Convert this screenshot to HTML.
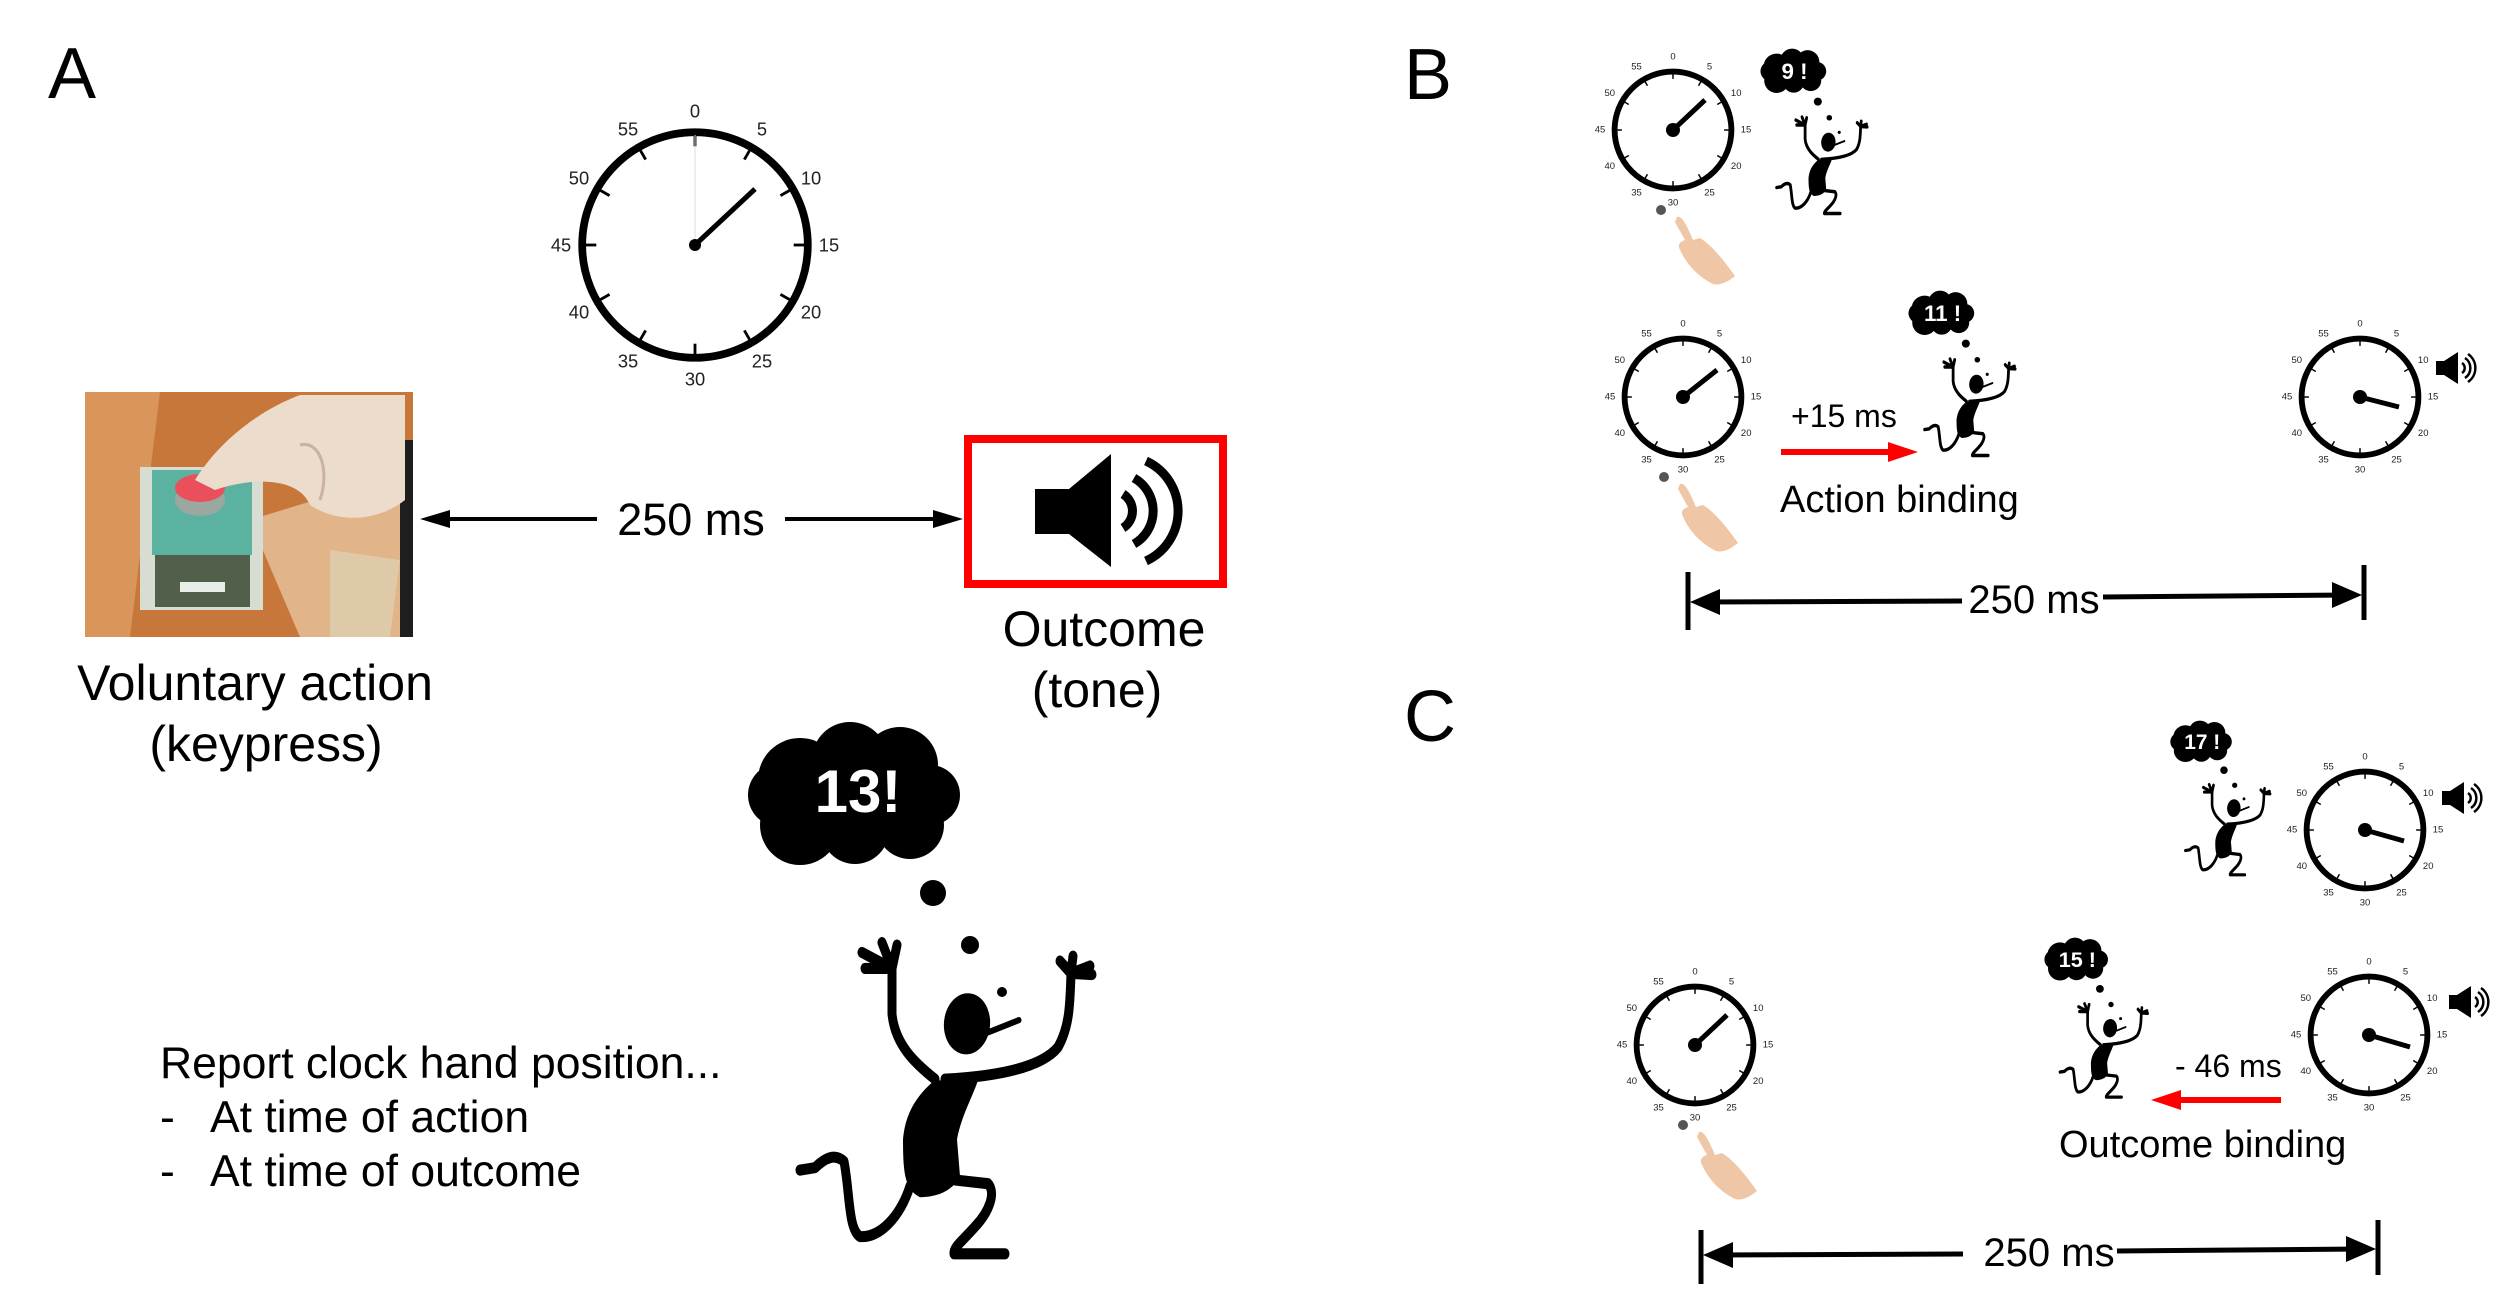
<!DOCTYPE html>
<html><head><meta charset="utf-8">
<style>
html,body{margin:0;padding:0;background:#fff;}
svg{display:block;font-family:"Liberation Sans",sans-serif;}
</style></head>
<body>
<svg width="2500" height="1302" viewBox="0 0 2500 1302" xmlns="http://www.w3.org/2000/svg">
<defs>
  <g id="dial">
    <g stroke="#000" stroke-width="2">
      <line x1="0" y1="-80" x2="0" y2="-70"/><line x1="40" y1="-69.3" x2="35" y2="-60.6"/>
      <line x1="69.3" y1="-40" x2="60.6" y2="-35"/><line x1="80" y1="0" x2="70" y2="0"/>
      <line x1="69.3" y1="40" x2="60.6" y2="35"/><line x1="40" y1="69.3" x2="35" y2="60.6"/>
      <line x1="0" y1="80" x2="0" y2="70"/><line x1="-40" y1="69.3" x2="-35" y2="60.6"/>
      <line x1="-69.3" y1="40" x2="-60.6" y2="35"/><line x1="-80" y1="0" x2="-70" y2="0"/>
      <line x1="-69.3" y1="-40" x2="-60.6" y2="-35"/><line x1="-40" y1="-69.3" x2="-35" y2="-60.6"/>
    </g>
  </g>
  <g id="lbl" font-size="13" text-anchor="middle" dominant-baseline="central" fill="#222">
    <text x="0" y="-100">0</text><text x="50" y="-86.6">5</text><text x="86.6" y="-50">10</text>
    <text x="100" y="0">15</text><text x="86.6" y="50">20</text><text x="50" y="86.6">25</text>
    <text x="0" y="100">30</text><text x="-50" y="86.6">35</text><text x="-86.6" y="50">40</text>
    <text x="-100" y="0">45</text><text x="-86.6" y="-50">50</text><text x="-50" y="-86.6">55</text>
  </g>
  <g id="lblA" font-size="13" text-anchor="middle" dominant-baseline="central" fill="#222">
    <text x="0" y="-95">0</text><text x="47.5" y="-82.3">5</text><text x="82.3" y="-47.5">10</text>
    <text x="95" y="0">15</text><text x="82.3" y="47.5">20</text><text x="47.5" y="82.3">25</text>
    <text x="0" y="95">30</text><text x="-47.5" y="82.3">35</text><text x="-82.3" y="47.5">40</text>
    <text x="-95" y="0">45</text><text x="-82.3" y="-47.5">50</text><text x="-47.5" y="-82.3">55</text>
  </g>
  <g id="cloud" fill="#000">
    <circle cx="60" cy="60" r="42"/><circle cx="110" cy="40" r="38"/><circle cx="160" cy="45" r="38"/>
    <circle cx="190" cy="75" r="30"/><circle cx="170" cy="105" r="34"/><circle cx="115" cy="110" r="34"/>
    <circle cx="60" cy="105" r="40"/><circle cx="40" cy="75" r="32"/><circle cx="118" cy="75" r="55"/>
  </g>
  <g id="man0">
    <ellipse cx="227" cy="273" rx="23" ry="25" transform="rotate(15 227 273)"/>
    <line x1="248" y1="280" x2="279" y2="270" stroke="#000" stroke-width="5" stroke-linecap="round"/>
    <g fill="none" stroke="#000" stroke-width="9" stroke-linecap="round" stroke-linejoin="round">
      <path d="M195,318 C175,305 155,290 152,265 L152,228"/>
      <path d="M152,228 L122,215 M152,228 L142,207 M152,228 L157,209 M152,228 L125,228"/>
      <path d="M205,318 C250,316 300,310 318,292 C330,275 330,255 331,232"/>
      <path d="M331,232 L320,222 M331,232 L333,218 M331,232 L350,226 M331,232 L352,233"/>
      <path d="M170,405 C160,430 140,447 120,446 C108,440 110,410 104,385 C95,378 85,382 75,390 L60,392"/>
      <path d="M215,400 L248,403 C256,410 250,425 235,438 C222,450 213,455 214,460 L265,460"/>
    </g>
    <path d="M193,320 L240,313 C236,328 222,345 217,367 L220,397 C212,410 195,414 180,414 C165,408 163,395 163,367 C165,350 172,335 193,320 Z"/>
  </g>
  <g id="man">
    <circle cx="193" cy="173" r="13"/><circle cx="230" cy="225" r="9"/><circle cx="262" cy="272" r="5"/>
    <use href="#man0" transform="translate(0,-32) scale(1,1.23)"/>
  </g>
  <g id="hand">
    <circle cx="-12" cy="80" r="5" fill="#555"/>
    <path d="M4,87 C9,85 14,96 20,110 L27,108 C40,116 52,132 62,146 C55,152 46,156 40,154 C28,148 16,138 8,122 C4,115 6,112 12,110 L2,92 Z" fill="#efc7a6"/>
  </g>
  <g id="spk">
    <rect x="0" y="-7" width="10" height="14" fill="#000"/>
    <polygon points="8,-7 22,-16 22,16 8,7" fill="#000"/>
    <path d="M26,-5 A6,6 0 0 1 26,5 M29,-10 A12,12 0 0 1 29,10 M32,-14 A17,17 0 0 1 32,14" fill="none" stroke="#000" stroke-width="2.5"/>
  </g>
</defs>

<text x="48" y="98" font-size="72">A</text>
<text x="1404" y="99" font-size="72">B</text>
<text x="1404" y="741" font-size="72">C</text>

<!-- Clock A -->
<g transform="translate(695,245) scale(1.41)">
  <circle r="80" fill="none" stroke="#000" stroke-width="5.5"/>
  <use href="#dial"/><use href="#lblA"/>
  <line x1="0" y1="0" x2="0" y2="-78" stroke="#ddd" stroke-width="0.7"/>
</g>
<line x1="695" y1="245" x2="755" y2="189" stroke="#000" stroke-width="5"/>
<circle cx="695" cy="245" r="6"/>

<!-- Button photo -->
<g>
  <rect x="85" y="392" width="328" height="245" fill="#c8773a"/>
  <path d="M85,392 L160,392 L130,637 L85,637 Z" fill="#d9955a"/>
  <path d="M250,520 L413,470 L413,637 L300,637 Z" fill="#e2b48a"/>
  <path d="M330,550 L400,560 L390,637 L330,637 Z" fill="#dec9a8"/>
  <rect x="400" y="440" width="13" height="197" fill="#1e1e1e"/>
  <rect x="140" y="467" width="123" height="143" fill="#d8ddd2"/>
  <rect x="152" y="470" width="100" height="85" fill="#5cb2a0"/>
  <rect x="155" y="555" width="95" height="52" fill="#50604a"/>
  <rect x="180" y="582" width="45" height="10" fill="#e8eee8"/>
  <ellipse cx="200" cy="500" rx="25" ry="16" fill="#9aa8a0"/>
  <ellipse cx="200" cy="488" rx="25" ry="14" fill="#e9505c"/>
  <path d="M195,480 C220,440 260,410 300,395 L405,395 L405,500 C380,520 340,525 310,505 C300,480 260,475 215,490 Z" fill="#ecdccc"/>
  <path d="M300,445 C320,440 330,470 320,500" fill="none" stroke="#c9b39f" stroke-width="3"/>
</g>

<!-- 250 ms arrow A -->
<line x1="440" y1="519" x2="597" y2="519" stroke="#000" stroke-width="4"/>
<polygon points="420,519 450,510 450,528" fill="#000"/>
<text x="691" y="535" font-size="45" text-anchor="middle">250 ms</text>
<line x1="785" y1="519" x2="940" y2="519" stroke="#000" stroke-width="4"/>
<polygon points="963,519 933,510 933,528" fill="#000"/>

<!-- Outcome box -->
<g transform="translate(-11,-4)">
<rect x="979" y="443" width="255" height="145" fill="none" stroke="#f00" stroke-width="8"/>
<rect x="1046" y="493" width="38" height="45" fill="#000"/>
<polygon points="1080,493 1122,458 1122,571 1080,538" fill="#000"/>
<path d="M1134,498 A20,20 0 0 1 1134,532 M1145,482 A38,38 0 0 1 1145,548 M1157,465 A55,55 0 0 1 1157,565" fill="none" stroke="#000" stroke-width="9"/>
</g>

<text x="1104" y="646" font-size="50" text-anchor="middle">Outcome</text>
<text x="1097" y="707" font-size="50" text-anchor="middle">(tone)</text>
<text x="255" y="700" font-size="50" text-anchor="middle">Voluntary action</text>
<text x="266" y="761" font-size="50" text-anchor="middle">(keypress)</text>

<text x="160" y="1078" font-size="44.5">Report clock hand position...</text>
<text x="160" y="1132" font-size="44.5">-</text><text x="210" y="1132" font-size="44.5">At time of action</text>
<text x="160" y="1186" font-size="44.5">-</text><text x="210" y="1186" font-size="44.5">At time of outcome</text>

<!-- Thinker A -->
<g transform="translate(740,720)">
  <use href="#cloud"/><use href="#man"/>
  <text x="118" y="92" font-size="60" font-weight="bold" fill="#fff" text-anchor="middle">13!</text>
</g>

<!-- Panel B -->
<g transform="translate(1673,130) scale(0.73)">
  <circle r="80" fill="none" stroke="#000" stroke-width="8"/><use href="#dial"/><use href="#lbl"/>
</g>
<line x1="1673" y1="130" x2="1705" y2="100" stroke="#000" stroke-width="5"/><circle cx="1673" cy="130" r="7"/>
<use href="#hand" transform="translate(1673,130)"/>
<g transform="translate(1758,48) scale(0.31)">
  <use href="#cloud"/><use href="#man"/>
  <text x="118" y="100" font-size="72" font-weight="bold" fill="#fff" text-anchor="middle">9 !</text>
</g>

<g transform="translate(1683,397) scale(0.73)">
  <circle r="80" fill="none" stroke="#000" stroke-width="8"/><use href="#dial"/><use href="#lbl"/>
</g>
<line x1="1683" y1="397" x2="1717" y2="370" stroke="#000" stroke-width="5"/><circle cx="1683" cy="397" r="7"/>
<use href="#hand" transform="translate(1676,397)"/>
<g transform="translate(1906,290) scale(0.31)">
  <use href="#cloud"/><use href="#man"/>
  <text x="118" y="100" font-size="72" font-weight="bold" fill="#fff" text-anchor="middle">11 !</text>
</g>
<text x="1791" y="427" font-size="32">+15 ms</text>
<line x1="1781" y1="452" x2="1890" y2="452" stroke="#f00" stroke-width="6"/>
<polygon points="1918,452 1888,442 1888,462" fill="#f00"/>
<text x="1780" y="512" font-size="38">Action binding</text>

<g transform="translate(2360,397) scale(0.73)">
  <circle r="80" fill="none" stroke="#000" stroke-width="8"/><use href="#dial"/><use href="#lbl"/>
</g>
<line x1="2360" y1="397" x2="2399" y2="407" stroke="#000" stroke-width="5"/><circle cx="2360" cy="397" r="7"/>
<use href="#spk" transform="translate(2436,368)"/>

<!-- B 250 ms bar -->
<line x1="1688" y1="572" x2="1688" y2="630" stroke="#000" stroke-width="5"/>
<line x1="2364" y1="565" x2="2364" y2="620" stroke="#000" stroke-width="5"/>
<line x1="1700" y1="602" x2="1962" y2="601" stroke="#000" stroke-width="5"/>
<polygon points="1690,602 1720,589 1720,615" fill="#000"/>
<text x="2034" y="613" font-size="40" text-anchor="middle">250 ms</text>
<line x1="2103" y1="597" x2="2350" y2="595" stroke="#000" stroke-width="5"/>
<polygon points="2362,595 2332,582 2332,608" fill="#000"/>

<!-- Panel C -->
<g transform="translate(2168,720) scale(0.29)">
  <use href="#cloud"/><use href="#man"/>
  <text x="118" y="100" font-size="72" font-weight="bold" fill="#fff" text-anchor="middle">17 !</text>
</g>
<g transform="translate(2365,830) scale(0.73)">
  <circle r="80" fill="none" stroke="#000" stroke-width="8"/><use href="#dial"/><use href="#lbl"/>
</g>
<line x1="2365" y1="830" x2="2404" y2="841" stroke="#000" stroke-width="5"/><circle cx="2365" cy="830" r="7"/>
<use href="#spk" transform="translate(2442,798)"/>

<g transform="translate(1695,1045) scale(0.73)">
  <circle r="80" fill="none" stroke="#000" stroke-width="8"/><use href="#dial"/><use href="#lbl"/>
</g>
<line x1="1695" y1="1045" x2="1727" y2="1015" stroke="#000" stroke-width="5"/><circle cx="1695" cy="1045" r="7"/>
<use href="#hand" transform="translate(1695,1045)"/>

<g transform="translate(2042,937) scale(0.30)">
  <use href="#cloud"/><use href="#man"/>
  <text x="118" y="100" font-size="72" font-weight="bold" fill="#fff" text-anchor="middle">15 !</text>
</g>
<g transform="translate(2369,1035) scale(0.73)">
  <circle r="80" fill="none" stroke="#000" stroke-width="8"/><use href="#dial"/><use href="#lbl"/>
</g>
<line x1="2369" y1="1035" x2="2410" y2="1047" stroke="#000" stroke-width="5"/><circle cx="2369" cy="1035" r="7"/>
<use href="#spk" transform="translate(2449,1002)"/>

<text x="2175" y="1077" font-size="32">- 46 ms</text>
<line x1="2178" y1="1100" x2="2281" y2="1100" stroke="#f00" stroke-width="6"/>
<polygon points="2151,1100 2181,1090 2181,1110" fill="#f00"/>
<text x="2059" y="1157" font-size="38">Outcome binding</text>

<!-- C 250 ms bar -->
<line x1="1701" y1="1230" x2="1701" y2="1284" stroke="#000" stroke-width="5"/>
<line x1="2378" y1="1220" x2="2378" y2="1275" stroke="#000" stroke-width="5"/>
<line x1="1712" y1="1255" x2="1963" y2="1254" stroke="#000" stroke-width="5"/>
<polygon points="1703,1255 1733,1242 1733,1268" fill="#000"/>
<text x="2049" y="1266" font-size="40" text-anchor="middle">250 ms</text>
<line x1="2117" y1="1251" x2="2362" y2="1249" stroke="#000" stroke-width="5"/>
<polygon points="2376,1249 2346,1236 2346,1262" fill="#000"/>
</svg>
</body></html>
